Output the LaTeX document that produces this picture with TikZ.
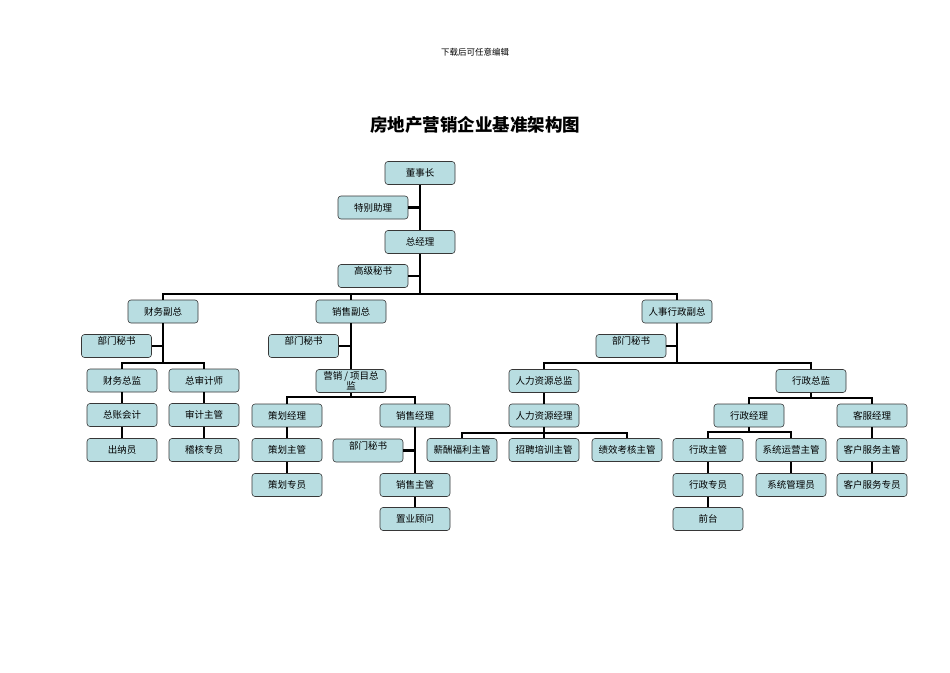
\documentclass[tikz,border=0pt]{standalone}
\usepackage{fontspec}
\setmainfont{Noto Sans CJK SC}
\definecolor{boxfill}{RGB}{184,221,225}
\definecolor{boxline}{RGB}{55,55,55}
\begin{document}
\begin{tikzpicture}[x=1pt,y=-1pt,
  post/.style={draw=boxline,fill=boxfill,line width=0.6pt,rounded corners=3pt,
    minimum width=70pt,minimum height=23pt,inner sep=0pt,font=\fontsize{9.5}{10.5}\selectfont},
  secpost/.style={post,text height=7pt,text depth=10pt,inner ysep=3pt},
  link/.style={line width=2.2pt}]
  \useasboundingbox (0,0) rectangle (950,672);
  \node at (475,52) {\fontsize{8.5}{9}\selectfont 下载后可任意编辑};
  \node at (475,125) {\fontsize{17.5}{19}\selectfont\bfseries 房地产营销企业基准架构图};
  % top
  \node[post] (chair) at (420,173) {董事长};
  \node[post] (asst) at (373,207.5) {特别助理};
  \node[post] (gm) at (420,242) {总经理};
  \node[secpost] (gmsec) at (373,276) {高级秘书};
  \coordinate (bus) at (420,294);
  % vice presidents
  \node[post] (fin) at (163,311.5) {财务副总};
  \node[post] (sales) at (351,311.5) {销售副总};
  \node[post] (hr) at (677,311.5) {人事行政副总};
  \node[secpost] (finsec) at (116.5,346) {部门秘书};
  \node[secpost] (salessec) at (303.5,346) {部门秘书};
  \node[secpost] (hrsec) at (631,346) {部门秘书};
  % finance
  \coordinate (finbus) at (163,363);
  \node[post] (findir) at (122,380.5) {财务总监};
  \node[post] (audit) at (204,380.5) {总审计师};
  \node[post] (acct) at (122,415) {总账会计};
  \node[post] (cashier) at (122,450) {出纳员};
  \node[post] (auditsup) at (204,415) {审计主管};
  \node[post] (check) at (204,450) {稽核专员};
  % sales
  \node[post,align=center] (mktdir) at (351,381) {营销 / 项目总\\监};
  \coordinate (mktbus) at (351,397);
  \node[post] (plan) at (287,415.5) {策划经理};
  \node[post] (plansup) at (287,450) {策划主管};
  \node[post] (planstaff) at (287,485) {策划专员};
  \node[post] (salesmgr) at (415,415.5) {销售经理};
  \node[secpost] (mgrsec) at (368,450.5) {部门秘书};
  \node[post] (salessup) at (415,485) {销售主管};
  \node[post] (consult) at (415,519) {置业顾问};
  % hr and admin
  \coordinate (hrbus) at (677,363);
  \node[post] (hrdir) at (544,381) {人力资源总监};
  \node[post] (hrmgr) at (544,415.5) {人力资源经理};
  \coordinate (hrmbus) at (544,433);
  \node[post] (pay) at (462,450) {薪酬福利主管};
  \node[post] (recruit) at (544,450) {招聘培训主管};
  \node[post] (perf) at (627,450) {绩效考核主管};
  \node[post] (admdir) at (811,381) {行政总监};
  \coordinate (admbus) at (811,398);
  \node[post] (admmgr) at (749,415.5) {行政经理};
  \node[post] (cs) at (872,415.5) {客服经理};
  \coordinate (admmbus) at (749,432);
  \node[post] (admsup) at (708,450) {行政主管};
  \node[post] (admstaff) at (708,485) {行政专员};
  \node[post] (front) at (708,519) {前台};
  \node[post] (sysop) at (791,450) {系统运营主管};
  \node[post] (sysadm) at (791,485) {系统管理员};
  \node[post] (cssup) at (872,450) {客户服务主管};
  \node[post] (csstaff) at (872,485) {客户服务专员};
  % links
  \draw[link] (chair) -- (gm);
  \draw[link] (asst.east) -- (asst.east -| chair);
  \draw[link] (gm) -- (bus);
  \draw[link] (gmsec.east) -- (gmsec.east -| gm);
  \draw[link] (fin.north) |- (bus) -| (hr.north);
  \draw[link] (sales.north) -- (sales.north |- bus);
  \draw[link] (finsec.east) -- (finsec.east -| fin);
  \draw[link] (salessec.east) -- (salessec.east -| sales);
  \draw[link] (hrsec.east) -- (hrsec.east -| hr);
  \draw[link] (fin) -- (finbus);
  \draw[link] (findir.north) |- (finbus) -| (audit.north);
  \draw[link] (findir) -- (acct) -- (cashier);
  \draw[link] (audit) -- (auditsup) -- (check);
  \draw[link] (sales) -- (mktdir);
  \draw[link] (mktdir) -- (mktbus);
  \draw[link] (plan.north) |- (mktbus) -| (salesmgr.north);
  \draw[link] (plan) -- (plansup) -- (planstaff);
  \draw[link] (salesmgr) -- (salessup) -- (consult);
  \draw[link] (mgrsec.east) -- (mgrsec.east -| salesmgr);
  \draw[link] (hr) -- (hrbus);
  \draw[link] (hrdir.north) |- (hrbus) -| (admdir.north);
  \draw[link] (hrdir) -- (hrmgr);
  \draw[link] (hrmgr) -- (hrmbus);
  \draw[link] (pay.north) |- (hrmbus) -| (perf.north);
  \draw[link] (hrmgr) -- (recruit);
  \draw[link] (admdir) -- (admbus);
  \draw[link] (admmgr.north) |- (admbus) -| (cs.north);
  \draw[link] (admmgr) -- (admmbus);
  \draw[link] (admsup.north) |- (admmbus) -| (sysop.north);
  \draw[link] (admsup) -- (admstaff) -- (front);
  \draw[link] (sysop) -- (sysadm);
  \draw[link] (cs) -- (cssup) -- (csstaff);
\end{tikzpicture}
\end{document}
